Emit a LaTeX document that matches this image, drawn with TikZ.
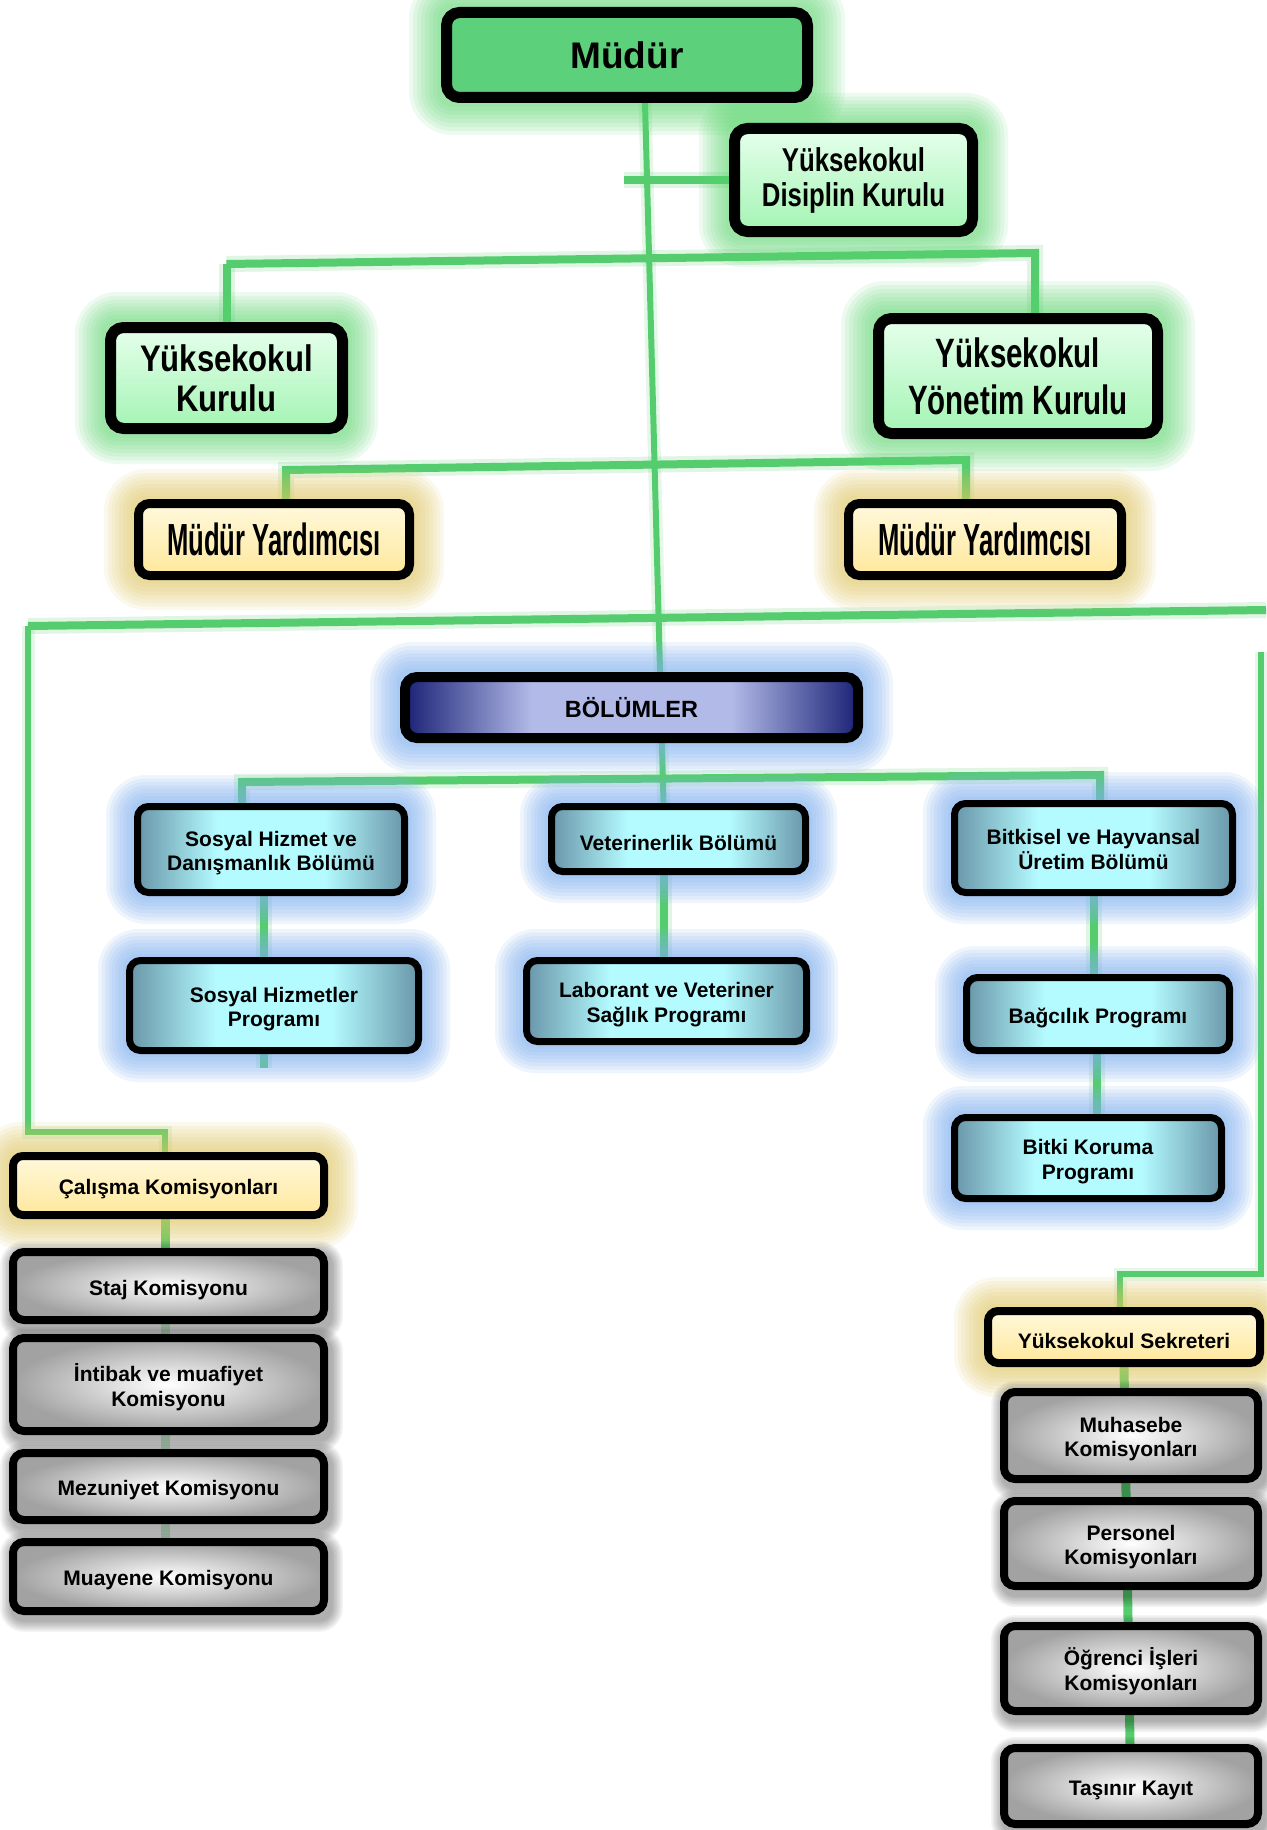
\documentclass[tikz,border=0pt]{standalone}
\usepackage{fontspec}
\setmainfont{Liberation Sans}
\newfontfamily\condB{Liberation Sans}[FakeStretch=0.78]
\newfontfamily\condK{Liberation Sans}[FakeStretch=0.84]
\newfontfamily\condC{Liberation Sans}[FakeStretch=0.72]
\newfontfamily\condD{Liberation Sans}[FakeStretch=0.57]
\usetikzlibrary{calc}
\pgfdeclarelayer{bg}\pgfdeclarelayer{lines}\pgfdeclarelayer{glow}
\pgfsetlayers{bg,lines,glow,main}
\definecolor{lgreen}{HTML}{55CC6E}
\definecolor{mgreen}{HTML}{5CD07A}
\definecolor{gtop}{HTML}{E6FFEC}
\definecolor{gbot}{HTML}{A4F4B4}
\definecolor{ytop}{HTML}{FFF9DC}
\definecolor{ybot}{HTML}{FFE89C}
\definecolor{navyb}{HTML}{1B2276}
\definecolor{lav}{HTML}{B2BAE8}
\definecolor{steel}{HTML}{6996A9}
\definecolor{cyanl}{HTML}{B4FBFF}
\definecolor{grayb}{HTML}{A2A2A2}
\definecolor{glowg}{HTML}{5ED872}
\definecolor{glowy}{HTML}{E0C860}
\definecolor{glowb}{HTML}{7FB2F2}
\pgfdeclarehorizontalshading{bolsh}{100bp}{color(0bp)=(navyb); color(25bp)=(navyb); color(39bp)=(lav); color(61bp)=(lav); color(75bp)=(navyb); color(100bp)=(navyb)}
\pgfdeclarehorizontalshading{depsh}{100bp}{color(0bp)=(steel); color(25bp)=(steel); color(40bp)=(cyanl); color(60bp)=(cyanl); color(75bp)=(steel); color(100bp)=(steel)}
\newcommand\lowfont{\fontsize{21}{24.5}\selectfont\bfseries}
\newcommand\tup{\rule{0pt}{22.5pt}}
\newcommand\two[2]{\raisebox{0pt}[\dimexpr\height+8pt\relax]{\begin{tabular}{@{}c@{}}#1\\#2\end{tabular}}}
\newcommand\glw[6]{%
  \foreach \k in {1,...,8}{%
    \pgfmathsetmacro\dd{\k*#3/8}%
    \pgfmathsetmacro\rr{12+\dd}%
    \fill[#2, opacity=#4, rounded corners=\rr pt]
      ([xshift=-\dd pt+#5pt, yshift=-\dd pt-#6pt]#1.south west) rectangle
      ([xshift=\dd pt+#5pt, yshift=\dd pt-#6pt]#1.north east);
  }}
\tikzset{
  bx/.style={rectangle, draw=black, align=center, text=black, inner sep=0pt},
  gbox/.style={bx, line width=11pt, rounded corners=13pt, top color=gtop, bottom color=gbot},
  mbox/.style={bx, line width=11pt, rounded corners=13pt, fill=mgreen},
  ybox/.style={bx, line width=9pt, rounded corners=11pt, top color=ytop, bottom color=ybot},
  bbox/.style={bx, line width=10pt, rounded corners=12pt, shade, shading=bolsh,
    font=\fontsize{23.5}{27}\selectfont\bfseries},
  dbox/.style={bx, line width=7pt, rounded corners=11pt, shade, shading=depsh,
    font=\lowfont, execute at begin node=\tup},
  kbox/.style={bx, line width=8pt, rounded corners=11pt, inner color=white, outer color=grayb,
    font=\lowfont, execute at begin node=\tup},
  sbox/.style={bx, line width=8pt, rounded corners=10pt, top color=ytop, bottom color=ybot,
    font=\lowfont, execute at begin node=\tup},
  conn/.style={draw=lgreen, line width=8pt, preaction={draw=lgreen, line width=16pt, opacity=0.18}},
  thin conn/.style={draw=lgreen, line width=6pt, preaction={draw=lgreen, line width=13pt, opacity=0.15}},
  col conn/.style={draw=lgreen, line width=9pt},
  faint conn/.style={draw=lgreen, line width=9pt, opacity=0.3},
}
\begin{document}
\begin{tikzpicture}[x=1pt,y=-1pt]
\useasboundingbox (0,0) rectangle (1266,1830);
\begin{pgfonlayer}{bg}
\fill[white] (0,0) rectangle (1266,1830);
\end{pgfonlayer}

% nodes
\node[mbox, minimum width=361, minimum height=85, font=\fontsize{37}{40}\selectfont\bfseries] (mudur) at (627,55) {Müdür};
\node[gbox, minimum width=238, minimum height=103, font=\condB\fontsize{33}{35}\selectfont\bfseries] (disiplin) at (853.5,180) {Yüksekokul\\Disiplin Kurulu};
\node[gbox, minimum width=232, minimum height=101, font=\condK\fontsize{37}{40}\selectfont\bfseries] (kurulu) at (226.5,378) {Yüksekokul\\Kurulu};
\node[gbox, minimum width=279, minimum height=115, font=\condC\fontsize{41}{47}\selectfont\bfseries] (yonetim) at (1018,376) {Yüksekokul\\Yönetim Kurulu};
\node[ybox, minimum width=271, minimum height=72, font=\condD\fontsize{45}{48}\selectfont\bfseries] (myl) at (274,539.5) {Müdür Yardımcısı};
\node[ybox, minimum width=273, minimum height=72, font=\condD\fontsize{45}{48}\selectfont\bfseries] (myr) at (985,539.5) {Müdür Yardımcısı};
\node[bbox, minimum width=453, minimum height=61] (bolum) at (631.5,707.5) {BÖLÜMLER};
\node[dbox, minimum width=267, minimum height=86] (sosyal) at (271,849.5) {\two{Sosyal Hizmet ve}{Danışmanlık Bölümü}};
\node[dbox, minimum width=254, minimum height=65] (vet) at (678.5,839) {Veterinerlik Bölümü};
\node[dbox, minimum width=278, minimum height=89] (bitkisel) at (1093.5,848) {\two{Bitkisel ve Hayvansal}{Üretim Bölümü}};
\node[dbox, minimum width=289, minimum height=90] (shp) at (274,1005.5) {\two{Sosyal Hizmetler}{Programı}};
\node[dbox, minimum width=280, minimum height=81] (lab) at (666.5,1001) {\two{Laborant ve Veteriner}{Sağlık Programı}};
\node[dbox, minimum width=263, minimum height=73] (bag) at (1098,1014) {Bağcılık Programı};
\node[dbox, minimum width=267, minimum height=81] (koruma) at (1088,1158) {\two{Bitki Koruma}{Programı}};
\node[sbox, minimum width=311, minimum height=59] (calisma) at (168.5,1185.5) {Çalışma Komisyonları};
\node[kbox, minimum width=311, minimum height=68] (staj) at (168.5,1286) {Staj Komisyonu};
\node[kbox, minimum width=311, minimum height=93] (intibak) at (168.5,1384.5) {\two{İntibak ve muafiyet}{Komisyonu}};
\node[kbox, minimum width=311, minimum height=67] (mezun) at (168.5,1486.5) {Mezuniyet Komisyonu};
\node[kbox, minimum width=311, minimum height=69] (muayene) at (168.5,1576.5) {Muayene Komisyonu};
\node[sbox, minimum width=272, minimum height=52] (sekreter) at (1124,1337) {Yüksekokul Sekreteri};
\node[kbox, minimum width=254, minimum height=87] (muhasebe) at (1131,1435.5) {\two{Muhasebe}{Komisyonları}};
\node[kbox, minimum width=254, minimum height=85] (personel) at (1131,1543.5) {\two{Personel}{Komisyonları}};
\node[kbox, minimum width=254, minimum height=85] (ogrenci) at (1131,1668.5) {\two{Öğrenci İşleri}{Komisyonları}};
\node[kbox, minimum width=254, minimum height=76] (tasinir) at (1131,1786) {Taşınır Kayıt};

% glows
\begin{pgfonlayer}{glow}
\glw{mudur}{glowg}{32}{0.11}{0}{0}
\glw{disiplin}{glowg}{30}{0.11}{0}{0}
\glw{kurulu}{glowg}{30}{0.11}{0}{0}
\glw{yonetim}{glowg}{32}{0.11}{0}{0}
\glw{myl}{glowy}{30}{0.11}{0}{0}
\glw{myr}{glowy}{30}{0.11}{0}{0}
\glw{bolum}{glowb}{30}{0.12}{0}{0}
\glw{sosyal}{glowb}{28}{0.12}{0}{0}
\glw{vet}{glowb}{28}{0.12}{0}{0}
\glw{bitkisel}{glowb}{28}{0.12}{0}{0}
\glw{shp}{glowb}{28}{0.12}{0}{0}
\glw{lab}{glowb}{28}{0.12}{0}{0}
\glw{bag}{glowb}{28}{0.12}{0}{0}
\glw{koruma}{glowb}{28}{0.12}{0}{0}
\glw{calisma}{glowy}{30}{0.11}{0}{0}
\glw{sekreter}{glowy}{30}{0.11}{0}{0}
\foreach \n in {staj,intibak,mezun,muayene,muhasebe,personel,ogrenci,tasinir}{
  \glw{\n}{black}{12}{0.045}{3}{5}
}
\end{pgfonlayer}

% connectors
\coordinate (dstub) at (624,180);
\coordinate (h1l) at (228,264);
\coordinate (h1r) at (1035,253);
\coordinate (h2l) at (286,470);
\coordinate (h2r) at (966,460);
\coordinate (h3l) at (28,626);
\coordinate (h3r) at (1266,610);
\coordinate (rtop) at (1261,652);
\coordinate (lbend) at (165,1132);
\coordinate (rbend) at (1261,1274);
\coordinate (rbend2) at (1120,1274);
\coordinate (h4l) at (242,782);
\coordinate (h4r) at (1100,775);
\coordinate (sstub) at (264,1068);
\begin{pgfonlayer}{lines}
\draw[thin conn] ([xshift=18pt]mudur.south) -- ([xshift=-15pt]vet.north);
\draw[conn] (disiplin.west) -- (dstub);
\draw[conn] (kurulu.north |- h1l) -- (kurulu.north);
\draw[conn] (kurulu.north |- h1l) -- (h1r) -- (h1r |- yonetim.north);
\draw[conn] (h2l |- myl.north) -- (h2l) -- (h2r) -- (h2r |- myr.north);
\draw[thin conn] (h3l) -- (lbend -| h3l) -- (lbend) -- (lbend |- calisma.north);
\draw[conn] (h3l) -- (h3r);
\draw[thin conn] (rtop) -- (rbend) -- (rbend2) -- (rbend2 |- sekreter.north);
\draw[conn] (h4l |- sosyal.north) -- (h4l) -- (h4r) -- (h4r |- bitkisel.north);
\draw[conn] (sstub |- sosyal.south) -- (sstub);
\draw[conn] ([xshift=-15pt]vet.south) -- ([xshift=-3pt]lab.north);
\draw[conn] (bitkisel.south) -- (bitkisel.south |- bag.north);
\draw[conn] ([xshift=-1pt]bag.south) -- ([xshift=9pt]koruma.north);
\draw[col conn] (lbend |- calisma.south) -- (lbend |- staj.north);
\draw[faint conn] (lbend |- staj.south) -- (lbend |- muayene.north);
\draw[col conn] (sekreter.south) -- ([xshift=-1pt]tasinir.north);
\end{pgfonlayer}
\end{tikzpicture}
\end{document}
